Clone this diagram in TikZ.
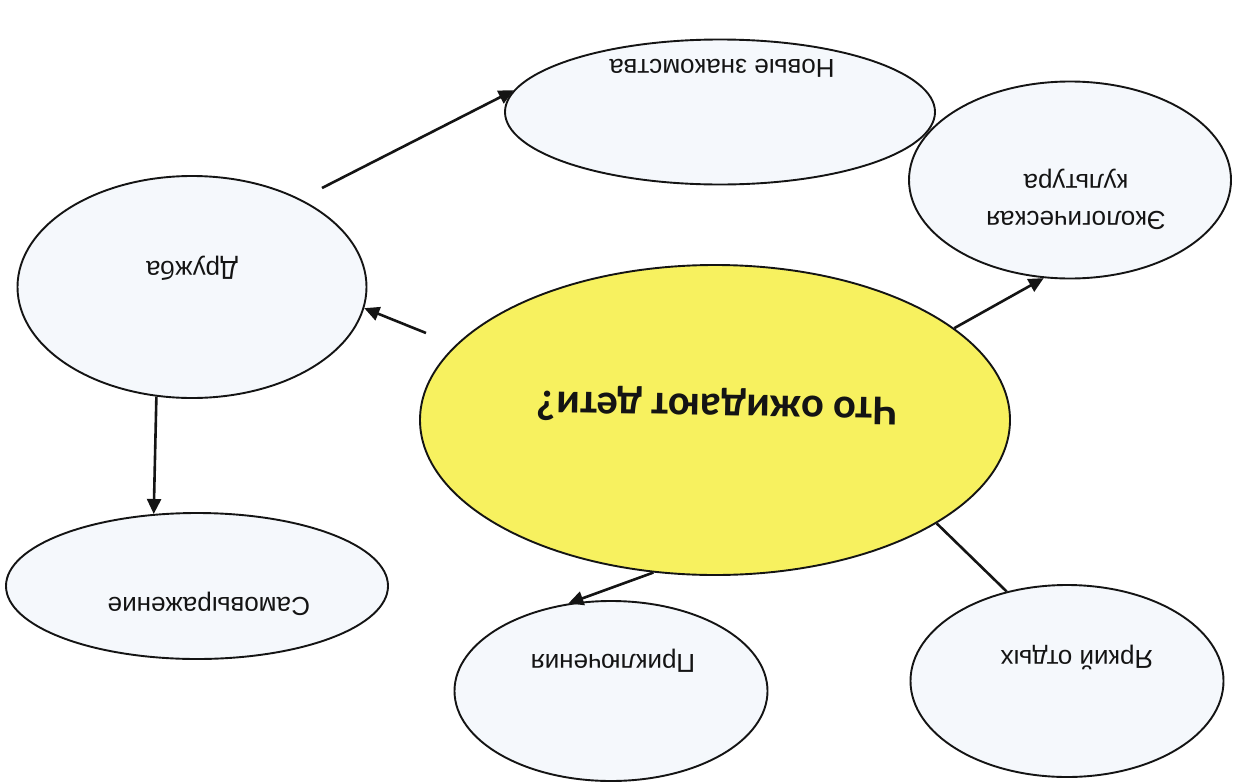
\documentclass[tikz,border=0pt]{standalone}
\usepackage{fontspec}
\setmainfont{Liberation Sans}
\newfontfamily\titlefont{Carlito}
\usetikzlibrary{arrows.meta,shapes.geometric}
\definecolor{bubble}{RGB}{245,248,252}
\definecolor{sun}{RGB}{247,241,95}
\definecolor{ink}{RGB}{20,20,20}
\tikzset{
  bubble/.style={draw=ink, line width=1.9pt, fill=bubble, ellipse, inner sep=0pt},
  hub/.style={draw=ink, line width=1.9pt, fill=sun, ellipse, inner sep=0pt},
  lbl/.style={text=ink, rotate=180, inner sep=0pt, align=center,
              font=\fontsize{26}{37}\selectfont},
  hublbl/.style={text=ink, rotate=179, inner sep=0pt,
              font=\titlefont\bfseries\fontsize{42.5}{48}\selectfont},
  link/.style={draw=ink, line width=2.6pt},
  arrowlink/.style={link, -{Triangle[length=15pt,width=14pt]}}
}
\begin{document}
\begin{tikzpicture}[x=1pt,y=-1pt]
\useasboundingbox (0,0) rectangle (1240,782);
\fill[white] (0,0) rectangle (1240,782);
% nodes
\node[hub, minimum width=590pt, minimum height=310pt] (hub) at (715,420) {};
\node[bubble, minimum width=430pt, minimum height=145pt] (novye) at (720,112) {};
\node[bubble, minimum width=322pt, minimum height=197pt] (eko) at (1070,180) {};
\node[bubble, minimum width=349pt, minimum height=222pt] (druzh) at (192,287) {};
\node[bubble, minimum width=382pt, minimum height=146pt] (samo) at (197,586) {};
\node[bubble, minimum width=313pt, minimum height=180pt] (prikl) at (611,691) {};
\node[bubble, minimum width=313pt, minimum height=192pt] (yark) at (1067,681) {};
% labels
\node[hublbl] (thub) at (717,406) {Что ожидают дети?};
\node[lbl] (tnovye) at (722,68) {Новые знакомства};
\node[lbl] (teko) at (1076,199) {Экологическая\\культура};
\node[lbl] (tdruzh) at (192,268) {Дружба};
\node[lbl] (tsamo) at (209,604) {Самовыражение};
\node[lbl] (tprikl) at (613,661) {Приключения};
\node[lbl] (tyark) at (1077,657) {Яркий отдых};
% free connector ends
\coordinate (s1) at (322,188);
\coordinate (s2) at (426,333);
% connectors
\draw[arrowlink] (s1) -- (novye.174);
\draw[arrowlink] (s2) -- (druzh.-7);
\draw[arrowlink] (hub.21) -- (eko.255);
\draw[arrowlink] (druzh.-108) -- (samo.121);
\draw[arrowlink] (hub.-112) -- (prikl.116);
\draw[link] (hub.-25) -- (yark.124);
\end{tikzpicture}
\end{document}
